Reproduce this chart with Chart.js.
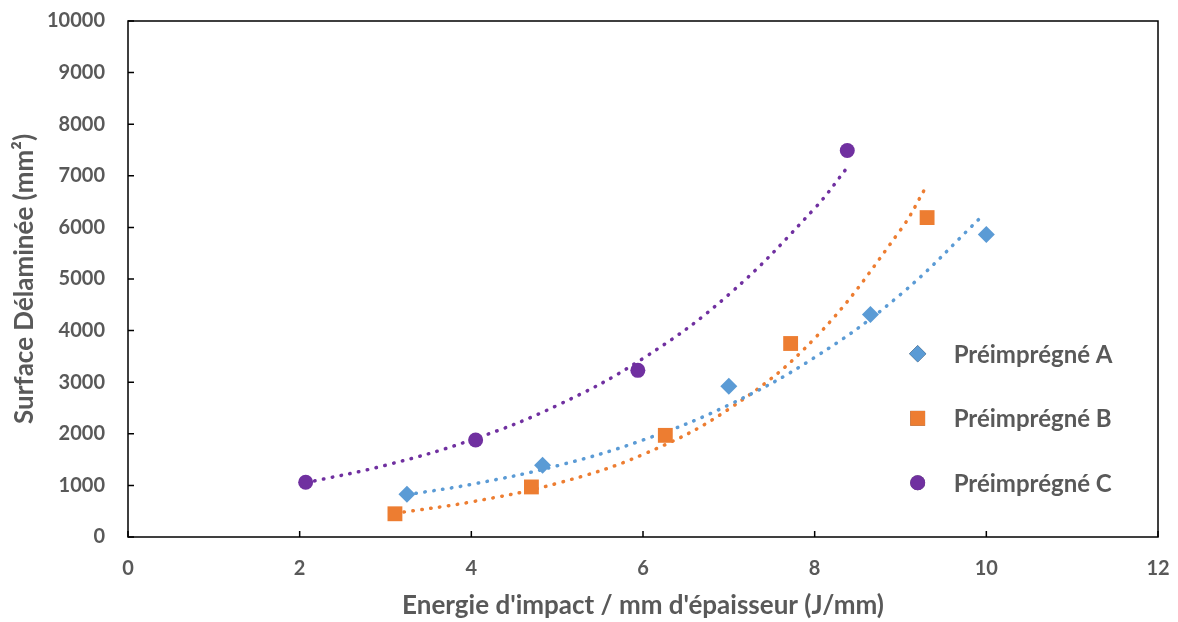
<!DOCTYPE html>
<html>
<head>
<meta charset="utf-8">
<script src="https://cdn.jsdelivr.net/npm/chart.js@4"></script>
<style>
  html, body { margin: 0; padding: 0; background: #fff; }
  #box { width: 1178px; height: 622px; }
</style>
</head>
<body>
<div id="box"><canvas id="graph"></canvas></div>
<script>
// valeurs mesurées
var energieA = [3.25, 4.83, 7.0, 8.65, 10.0];
var surfaceA = [830, 1390, 2920, 4310, 5860];
var energieB = [3.11, 4.70, 6.26, 7.72, 9.31];
var surfaceB = [450, 970, 1970, 3750, 6190];
var energieC = [2.07, 4.05, 5.94, 8.38];
var surfaceC = [1060, 1880, 3230, 7490];

// courbes de tendance
var tendanceA_x = [3.25, 4, 5, 6, 7, 8, 9, 9.97];
var tendanceA_y = [820, 1020, 1380, 1880, 2560, 3480, 4700, 6250];
var tendanceB_x = [3.11, 4, 5, 6, 7, 8, 9, 9.30];
var tendanceB_y = [460, 680, 1040, 1600, 2480, 3850, 5950, 6790];
var tendanceC_x = [2.07, 3, 4, 5, 6, 7, 8, 8.38];
var tendanceC_y = [1050, 1390, 1880, 2550, 3460, 4700, 6370, 7160];

var noms = ['Préimprégné A', 'Préimprégné B', 'Préimprégné C'];
var ticksX = [0, 2, 4, 6, 8, 10, 12];
var ticksY = [0, 1000, 2000, 3000, 4000, 5000, 6000, 7000, 8000, 9000, 10000];

var bleu = '#5B9BD5', orange = '#ED7D31', violet = '#7030A0';
var gris = '#595959';
var police = 'Lato, "Open Sans", sans-serif';

function points(xs, ys) {
    return xs.map(function (x, i) { return {x: x, y: ys[i]}; });
}

function tendance(xs, ys, couleur) {
    return {
        type: 'line',
        data: points(xs, ys),
        borderColor: couleur,
        borderWidth: 3.5,
        borderDash: [0.5, 8.5],
        borderCapStyle: 'round',
        pointRadius: 0,
        tension: 0.4,
        fill: false
    };
}

// cadre + petites graduations vers l'intérieur + légende dans la zone
var cadre = {
    id: 'cadre',
    afterDraw(chart) {
        var ctx = chart.ctx, a = chart.chartArea;
        var sx = chart.scales.x, sy = chart.scales.y;
        ctx.save();
        ctx.strokeStyle = '#000';
        ctx.lineWidth = 1.5;
        ctx.strokeRect(a.left, a.top, a.right - a.left, a.bottom - a.top);
        ctx.beginPath();
        ticksX.forEach(function (v) {
            var px = sx.getPixelForValue(v);
            ctx.moveTo(px, a.bottom);
            ctx.lineTo(px, a.bottom - 6);
        });
        ticksY.forEach(function (v) {
            var py = sy.getPixelForValue(v);
            ctx.moveTo(a.left, py);
            ctx.lineTo(a.left + 6, py);
        });
        ctx.stroke();

        // légende
        ctx.font = 'bold 24px ' + police;
        ctx.textBaseline = 'middle';
        var lx = sx.getPixelForValue(9.2), ly = sy.getPixelForValue(3550);
        var pas = 64.5;
        noms.forEach(function (nom, i) {
            var ds = chart.data.datasets[i];
            var y = ly + i * pas;
            Chart.helpers.drawPoint(ctx, {
                pointStyle: ds.pointStyle,
                radius: ds.pointRadius,
                rotation: 0,
                borderWidth: 0
            }, lx, y);
            ctx.fillStyle = ds.backgroundColor;
            ctx.fill();
            ctx.fillStyle = gris;
            ctx.fillText(nom, lx + 36, y + 1);
        });
        ctx.restore();
    }
};

var policeTicks = {family: police, size: 20, weight: 'bold'};
var policeTitre = {family: police, size: 26, weight: 'bold'};

var myChart = new Chart(document.getElementById('graph'), {
    type: 'scatter',
    data: {
        datasets: [
            {
                label: noms[0],
                data: points(energieA, surfaceA),
                pointStyle: 'rectRot',
                pointRadius: 8.5,
                backgroundColor: bleu,
                borderColor: bleu,
                borderWidth: 0
            },
            {
                label: noms[1],
                data: points(energieB, surfaceB),
                pointStyle: 'rect',
                pointRadius: 10.5,
                backgroundColor: orange,
                borderColor: orange,
                borderWidth: 0
            },
            {
                label: noms[2],
                data: points(energieC, surfaceC),
                pointStyle: 'circle',
                pointRadius: 7.5,
                backgroundColor: violet,
                borderColor: violet,
                borderWidth: 0
            },
            tendance(tendanceA_x, tendanceA_y, bleu),
            tendance(tendanceB_x, tendanceB_y, orange),
            tendance(tendanceC_x, tendanceC_y, violet)
        ]
    },
    options: {
        responsive: true,
        maintainAspectRatio: false,
        animation: false,
        layout: {padding: {top: 21, right: 20, left: 0, bottom: 0}},
        plugins: {
            legend: {display: false},
            tooltip: {enabled: false}
        },
        scales: {
            x: {
                type: 'linear',
                min: 0,
                max: 12,
                afterBuildTicks: function (s) { s.ticks = ticksX.map(function (v) { return {value: v}; }); },
                afterFit: function (s) { s.height = 85; s.paddingLeft = 0; s.paddingRight = 0; },
                grid: {display: false, drawTicks: false},
                border: {display: false},
                ticks: {color: gris, padding: 20, font: policeTicks, callback: function (v) { return String(v); }},
                title: {
                    display: true,
                    text: "Energie d'impact / mm d'épaisseur (J/mm)",
                    color: gris,
                    padding: {top: 0, bottom: 1},
                    font: policeTitre
                }
            },
            y: {
                type: 'linear',
                min: 0,
                max: 10000,
                afterBuildTicks: function (s) { s.ticks = ticksY.map(function (v) { return {value: v}; }); },
                afterFit: function (s) { s.width = 128; s.paddingTop = 0; s.paddingBottom = 0; },
                grid: {display: false, drawTicks: false},
                border: {display: false},
                ticks: {color: gris, padding: 23, font: policeTicks, callback: function (v) { return String(v); }},
                title: {
                    display: true,
                    text: 'Surface Délaminée (mm²)',
                    color: gris,
                    padding: {top: 9, bottom: 0},
                    font: policeTitre
                }
            }
        }
    },
    plugins: [cadre]
});
</script>
</body>
</html>
